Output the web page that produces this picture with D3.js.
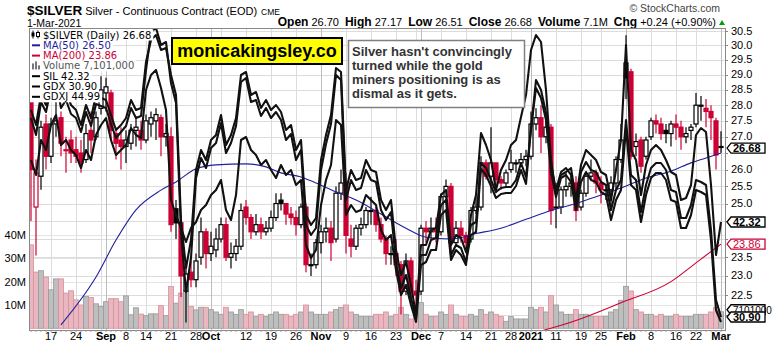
<!DOCTYPE html>
<html><head><meta charset="utf-8">
<script src="https://cdn.jsdelivr.net/npm/d3@7"></script>
<style>
html,body{margin:0;padding:0;background:#fff;}
svg{display:block;font-family:Arial,"Liberation Sans",sans-serif;}
</style></head><body>
<svg id="chart" width="775" height="345"></svg>
<script>
// ---- trading calendar -------------------------------------------------
const firstDay = "2020-08-11", lastDay = "2021-03-01";
const holidays = ["2020-09-07","2020-11-26","2020-12-25","2021-01-01","2021-01-18","2021-02-15"];

// ---- $SILVER daily candles (Aug 11 2020 .. Mar 1 2021) -------------------
const opens = [
  28.2,24.9,25.8,27.4,26.4,27.4,27.6,26.6,26.9,26.6,26.5,26.3,27.2,27.0,27.9,
  28.4,28.4,27.1,26.9,26.7,26.8,27.2,27.2,26.9,27.4,27.5,27.6,27.0,27.0,24.85,24.45,22.6,23.1,22.9,23.5,24.2,
  23.6,23.7,24.0,24.4,23.5,23.6,23.8,24.9,24.6,24.2,24.4,24.2,24.3,24.6,25.1,25.0,24.7,24.6,24.4,24.9,23.3,23.3,
  23.9,24.2,24.3,24.0,25.3,25.6,24.0,23.8,24.3,24.4,24.8,24.8,24.4,24.0,23.6,23.6,23.3,22.6,23.4,22.6,
  22.6,24.3,24.2,24.3,24.2,25.2,25.5,23.9,24.3,24.1,24.0,24.8,24.9,26.2,25.8,26.2,25.7,25.6,26.0,26.2,26.2,26.3,
  26.4,27.4,27.6,27.0,27.3,24.9,24.9,25.4,25.5,25.6,24.9,25.3,25.8,25.9,25.6,25.4,25.4,25.6,26.3,
  29.4,29.1,26.7,26.9,26.4,27.0,27.5,27.4,27.2,27.1,27.4,27.3,27.0,27.2,27.4,28.0,27.9,27.8,27.5,
  26.70];
const highs = [
  28.6,26.3,27.5,27.7,27.6,28.3,27.8,27.0,27.2,27.0,26.9,27.4,27.8,27.8,28.95,
  28.9,28.5,27.3,27.3,27.2,27.4,27.6,27.5,27.7,27.8,27.9,27.7,27.4,27.3,25.1,24.6,23.3,23.4,23.6,24.6,24.3,
  24.2,24.3,24.6,24.6,23.9,24.0,25.0,25.1,24.7,24.7,24.6,24.5,24.8,25.3,25.3,25.0,24.9,24.8,25.0,25.0,23.6,24.0,
  24.4,24.6,24.5,25.5,26.0,25.9,24.4,24.4,24.6,24.9,25.2,24.9,24.6,24.1,23.8,24.0,23.4,23.6,23.5,22.9,
  24.4,24.5,24.6,24.6,25.3,25.7,25.6,24.5,24.5,24.2,24.9,25.2,26.4,26.3,27.3,26.2,25.8,26.0,26.6,26.3,26.5,26.6,
  27.8,27.9,28.0,27.5,27.4,25.6,25.5,25.9,25.9,25.8,25.4,25.9,26.3,26.0,25.8,25.5,25.8,26.4,27.4,
  30.35,29.2,27.1,27.0,27.0,27.6,27.7,27.6,27.4,27.5,27.7,27.5,27.3,27.4,28.4,28.3,28.2,28.0,27.6,
  27.17];
const lows = [
  24.5,23.55,25.4,26.0,26.2,27.0,26.4,25.9,26.2,26.2,25.9,26.2,26.5,26.9,27.7,
  27.8,26.9,26.3,26.0,26.2,26.6,26.7,26.6,26.8,27.0,26.9,26.4,26.7,24.2,24.0,22.45,21.8,22.7,22.7,23.3,23.2,
  23.4,23.5,23.9,23.4,23.2,23.4,23.7,24.4,24.0,24.1,24.0,24.1,24.2,24.5,24.8,24.4,24.4,24.1,24.3,23.1,23.0,23.2,
  23.6,23.9,23.4,23.9,25.1,23.6,23.5,23.7,24.1,24.3,24.4,24.2,23.9,23.3,23.3,23.0,22.0,22.5,22.4,22.0,
  22.5,23.9,24.0,23.9,24.1,25.0,23.6,23.8,23.9,23.6,23.9,24.7,24.8,25.7,25.3,25.3,25.4,25.5,25.9,25.9,26.1,26.1,
  26.3,27.2,26.5,26.8,24.4,24.3,24.7,25.2,25.2,24.5,24.8,25.2,25.7,25.3,25.0,25.1,24.8,25.4,26.2,
  28.2,26.3,26.4,25.9,26.3,26.9,27.1,26.9,26.8,26.7,26.9,26.6,26.8,26.9,27.3,27.5,27.3,26.9,26.0,
  26.51];
const closes = [
  26.0,25.9,27.3,26.4,27.4,27.5,26.8,26.6,26.5,26.4,26.2,27.1,26.9,27.6,28.5,
  28.6,27.2,26.8,26.7,26.9,27.2,27.3,26.9,27.5,27.6,27.7,27.0,27.1,24.4,24.45,23.0,23.05,22.9,23.4,24.2,23.6,
  23.8,24.0,24.4,23.5,23.6,23.8,24.8,24.6,24.2,24.4,24.2,24.3,24.6,25.0,25.0,24.7,24.6,24.4,24.9,23.3,23.3,23.9,
  24.2,24.3,23.9,25.3,25.6,24.1,23.8,24.3,24.4,24.8,24.8,24.4,24.0,23.6,23.6,23.3,22.6,23.4,22.6,22.5,
  24.3,24.2,24.3,24.2,25.2,25.5,23.9,24.3,24.1,23.9,24.8,24.9,26.2,25.8,26.2,25.7,25.6,25.9,26.2,26.2,26.3,26.4,
  27.4,27.6,27.0,27.3,24.8,24.9,25.4,25.5,25.6,24.8,25.3,25.8,25.9,25.6,25.4,25.4,25.6,26.3,26.9,
  28.9,26.4,26.85,26.1,26.9,27.5,27.4,27.1,27.1,27.4,27.3,27.0,27.1,27.3,28.0,28.0,27.8,27.6,26.44,
  26.68];
// volume, millions of contracts
const volumes = [
  35.8,24.1,24.7,22.0,16.5,21.2,21.2,15.1,16.1,12.2,10.0,13.7,13.2,10.5,9.4,
  11.4,12.7,12.7,11.4,13.9,5.8,8.8,6.1,5.4,6.2,6.2,9.7,5.4,17.9,10.8,15.1,16.1,9.4,7.9,9.0,9.0,
  8,7,6,9,7,6,8,6,7,5,6,5,6,7,6,6,5,6,7,10,7,6,
  6,6,7,8,9,10,7,6,5,5,5,6,6,7,5,6,9,6,4,8,
  11,6,5,5,7,6,10,6,5,5,6,5,8,6,7,6,5,3,5,4,4,4,
  9,8,9,7,14,10,7,6,6,8,6,6,5,5,5,5,7,8,12,
  18,16,8,7,6,6,5,6,5,5,6,5,5,5,6,6,6,7,9,
  7.101];

// ---- moving averages (date, value) --------------------------------------
const ma50 = [["2020-08-19",21.74],["2020-08-28",22.97],["2020-09-03",23.97],["2020-09-10",24.82],
  ["2020-09-17",25.39],["2020-09-22",25.63],["2020-09-28",26.02],["2020-10-02",26.14],["2020-10-12",26.17],
  ["2020-10-16",26.08],["2020-10-21",25.9],["2020-10-27",25.78],["2020-10-30",25.6],["2020-11-05",25.34],
  ["2020-11-11",25.1],["2020-11-18",24.7],["2020-11-25",24.3],["2020-12-02",24.05],["2020-12-09",24.0],
  ["2020-12-16",24.15],["2020-12-23",24.3],["2020-12-31",24.55],["2021-01-08",24.8],["2021-01-15",25.0],
  ["2021-01-22",25.2],["2021-01-29",25.45],["2021-02-05",25.75],["2021-02-12",25.95],["2021-02-19",26.2],
  ["2021-02-24",26.35],["2021-03-01",26.50]];
const ma200 = [["2021-01-05",21.55],["2021-01-15",21.85],["2021-01-29",22.3],["2021-02-12",22.85],
  ["2021-02-22",23.35],["2021-03-01",23.86]];

// ---- overlay symbols, daily closes ---------------------------------------
const silCloses = [
  44.8,44.2,45.6,45.2,46.2,46.6,45.4,45.6,45.2,45.0,44.48,45.2,44.8,45.8,46.2,
  46.48,45.6,45.0,45.2,45.4,46.08,45.8,45.68,47.6,48.2,48.4,47.68,46.8,43.2,42.6,42.08,41.52,42.08,42.32,42.8,43.0,
  43.4,43.6,44.0,42.8,42.4,43.4,45.6,45.72,45.2,45.0,44.6,44.8,44.4,44.08,44.6,44.2,44.4,43.8,44.0,41.4,40.88,41.2,
  43.0,44.0,44.6,46.4,46.2,42.6,43.0,42.72,42.8,43.4,43.2,43.0,42.0,41.6,41.8,40.4,39.4,39.8,39.0,38.32,
  40.6,40.72,41.2,41.2,42.6,42.8,40.8,41.2,41.0,40.6,42.6,43.4,45.88,45.4,44.8,43.6,44.4,44.8,45.4,45.6,46.52,47.4,
  49.2,49.8,49.52,47.6,44.8,43.4,44.2,44.32,44.48,43.2,44.6,45.2,45.0,44.8,44.32,44.2,43.2,44.4,45.6,
  49.4,45.2,44.8,43.4,44.6,45.2,45.4,45.2,44.8,44.32,44.2,43.2,43.28,43.8,45.8,46.08,45.92,43.8,41.0,
  42.32];
const gdxCloses = [
  41.25,40.5,42.0,41.5,42.75,43.25,41.75,42.15,41.5,41.25,40.5,41.5,40.85,42.0,41.85,
  41.75,41.0,40.25,40.5,40.85,41.75,41.25,41.35,43.65,44.75,45.0,44.25,44.35,43.0,42.0,35.75,33.35,34.75,38.25,39.25,38.75,
  39.75,40.0,41.0,39.5,40.0,40.85,43.0,43.15,42.0,42.15,41.35,41.75,41.25,41.5,41.15,40.25,40.5,39.25,39.75,36.0,35.5,35.85,
  38.75,40.0,41.0,43.35,43.15,37.25,38.25,37.75,37.85,38.75,38.25,38.15,36.75,36.25,36.75,34.25,33.0,33.65,32.5,31.0,
  34.5,34.5,35.25,35.35,37.0,37.25,34.5,35.0,34.85,34.15,35.5,35.65,38.6,38.35,37.75,37.15,37.35,37.4,37.4,37.75,38.6,37.9,
  40.25,42.75,42.25,41.1,38.5,37.25,38.15,38.35,38.0,36.6,38.15,38.65,38.25,38.15,37.65,37.5,36.25,37.25,37.75,
  40.75,38.0,37.75,36.15,37.5,38.35,38.6,38.6,38.25,37.25,37.15,35.85,35.85,36.5,37.75,37.65,37.5,35.25,31.75,
  30.90];
const gdxjCloses = [
  55.19,54.34,55.99,55.49,56.69,57.09,55.69,56.09,55.39,55.19,54.49,55.49,54.79,55.89,55.79,
  55.69,54.89,54.19,54.49,54.79,55.69,55.19,55.29,57.59,59.49,59.69,58.84,58.99,56.94,55.94,49.49,46.49,48.19,52.19,53.19,52.69,
  53.69,53.94,54.94,53.44,53.94,54.79,56.99,57.19,55.99,56.09,55.29,55.69,55.19,55.49,55.09,54.09,54.39,53.09,53.59,49.84,49.34,49.69,
  52.59,53.89,54.89,57.34,57.09,51.09,52.09,51.59,51.69,52.59,52.09,51.99,50.59,50.09,50.49,47.99,46.69,47.34,46.19,45.19,
  48.34,48.34,49.09,49.19,50.84,51.09,48.34,48.84,48.69,47.99,49.34,49.49,52.64,52.34,51.79,51.19,51.39,51.44,51.44,51.79,52.59,51.89,
  54.69,56.69,56.19,55.09,52.49,51.24,52.19,52.34,51.99,50.59,51.99,52.49,52.09,51.99,51.49,51.34,50.09,51.09,51.59,
  54.69,51.84,51.59,49.99,51.34,52.19,52.44,52.44,52.09,51.09,50.99,49.69,49.69,50.34,51.59,51.49,51.34,49.09,45.59,
  44.99];
// each overlay is drawn on its own value range
const overlayDomains = {SIL:[38.0,50.08], GDX:[30.25,45.35], GDXJ:[44.59,59.69]};

// ---- axis labels -----------------------------------------------------------
const priceTicks = [22.0,22.5,23.0,23.5,24.0,24.5,25.0,25.5,26.0,26.5,27.0,27.5,28.0,28.5,29.0,29.5,30.0,30.5];
const priceLabels = [22.5,23.0,23.5,25.0,25.5,26.0,27.0,27.5,28.0,28.5,29.0,29.5,30.0,30.5];
const volumeTicks = [10,20,30,40];
const dateTicks = [["2020-08-17","17",0],["2020-08-24","24",0],["2020-09-01","Sep",1],["2020-09-08","8",0],
  ["2020-09-14","14",0],["2020-09-21","21",0],["2020-09-28","28",0],["2020-10-01","Oct",1],["2020-10-12","12",0],
  ["2020-10-19","19",0],["2020-10-26","26",0],["2020-11-02","Nov",1],["2020-11-09","9",0],["2020-11-16","16",0],
  ["2020-11-23","23",0],["2020-12-01","Dec",1],["2020-12-07","7",0],["2020-12-14","14",0],["2020-12-21","21",0],
  ["2020-12-28","28",0],["2021-01-04","2021",1],["2021-01-11","11",0],["2021-01-19","19",0],["2021-01-25","25",0],
  ["2021-02-01","Feb",1],["2021-02-08","8",0],["2021-02-16","16",0],["2021-02-22","22",0],["2021-03-01","Mar",1]];
const extraGridDates = ["2020-08-31","2020-10-05","2020-11-30"];

// ---- build calendar ---------------------------------------------------------
const fmt = d3.utcFormat("%Y-%m-%d");
const dates = d3.utcDays(new Date(firstDay+"T00:00Z"), d3.utcDay.offset(new Date(lastDay+"T00:00Z"),1))
  .filter(d => d.getUTCDay()!==0 && d.getUTCDay()!==6 && !holidays.includes(fmt(d))).map(fmt);
const bars = dates.map((d,i)=>({date:d,o:opens[i],h:highs[i],l:lows[i],c:closes[i],v:volumes[i]*1e6,
  prev: i>0?closes[i-1]:opens[i]}));

// ---- layout & scales ---------------------------------------------------------
const L=29, R=725, T=28, B=330;
const svg = d3.select("#chart");
const x = d3.scalePoint().domain(dates).range([31,721]);
const y = d3.scaleLog().domain([22.5,30.5]).range([295,31]);
const yv = d3.scaleLinear().domain([0,40e6]).range([328.3,235]);

svg.append("defs").append("clipPath").attr("id","plot").append("rect")
  .attr("x",L).attr("y",T).attr("width",R-L).attr("height",B-T);

// ---- header ----
const hdr = svg.append("text").attr("x",27).attr("y",15);
hdr.append("tspan").attr("font-weight","bold").attr("font-size",13.5).text("$SILVER");
hdr.append("tspan").attr("font-size",11).attr("dx",3).text("Silver - Continuous Contract (EOD)");
hdr.append("tspan").attr("font-size",8.5).attr("dx",4).text("CME");
svg.append("text").attr("x",27).attr("y",26.5).attr("font-size",10.5).text("1-Mar-2021");
svg.append("text").attr("x",720).attr("y",12).attr("text-anchor","end").attr("font-size",10.5)
  .attr("fill","#444").text("\u00A9 StockCharts.com");
const stats = svg.append("text").attr("x",716).attr("y",26).attr("text-anchor","end");
[["Open","26.70"],["High","27.17"],["Low","26.51"],["Close","26.68"],["Volume","7.1M"],["Chg","+0.24 (+0.90%)"]]
  .forEach(([k,v],i)=>{
    stats.append("tspan").attr("font-weight","bold").attr("font-size",12).attr("dx",i?6:0).text(k);
    stats.append("tspan").attr("font-size",11).attr("dx",3).text(v);
  });
svg.append("path").attr("d","M719,25 L725,25 L722,20 Z").attr("fill","#00a000");

// ---- grid ----
const grid = svg.append("g");
grid.selectAll("line.h").data(priceTicks).join("line")
  .attr("x1",L).attr("x2",R).attr("y1",d=>Math.round(y(d))+0.5).attr("y2",d=>Math.round(y(d))+0.5)
  .attr("stroke","#dcdcdc");
grid.selectAll("line.hv").data(volumeTicks).join("line")
  .attr("x1",L).attr("x2",R).attr("y1",d=>Math.round(yv(d*1e6))+0.5).attr("y2",d=>Math.round(yv(d*1e6))+0.5)
  .attr("stroke","#e4e4e4");
grid.selectAll("line.v").data(dateTicks.concat(extraGridDates.map(d=>[d,"",0]))).join("line")
  .attr("x1",d=>Math.round(x(d[0]))+0.5).attr("x2",d=>Math.round(x(d[0]))+0.5).attr("y1",T).attr("y2",B)
  .attr("stroke",d=>d[2]?"#bdbdbd":"#dcdcdc");

const plot = svg.append("g").attr("clip-path","url(#plot)");

// ---- volume ----
plot.selectAll("rect.vol").data(bars).join("rect")
  .attr("x",d=>x(d.date)-2.5).attr("width",5)
  .attr("y",d=>yv(d.v)).attr("height",d=>yv(0)-yv(d.v))
  .attr("fill",d=>d.c<d.prev?"#e8b7c0":"#bebebe")
  .attr("stroke",d=>d.c<d.prev?"#d88f9d":"#999").attr("stroke-width",0.8);

// ---- candles ----
const red="#cc0033";
const cg = plot.selectAll("g.cdl").data(bars).join("g");
cg.append("line").attr("x1",d=>x(d.date)).attr("x2",d=>x(d.date))
  .attr("y1",d=>y(d.h)).attr("y2",d=>y(d.l))
  .attr("stroke",d=>d.c<d.prev?red:"#000").attr("stroke-width",1.2);
cg.append("rect").attr("x",d=>x(d.date)-2).attr("width",4)
  .attr("y",d=>y(Math.max(d.o,d.c))).attr("height",d=>Math.max(1,Math.abs(y(d.o)-y(d.c))))
  .attr("fill",d=>d.c>=d.o?"#fff":(d.c<d.prev?red:"#000"))
  .attr("stroke",d=>d.c<d.prev?red:"#000").attr("stroke-width",1.2);

// ---- moving averages ----
const maLine = d3.line().x(d=>x(d[0])).y(d=>y(d[1])).curve(d3.curveMonotoneX);
plot.append("path").attr("d",maLine(ma50)).attr("fill","none").attr("stroke","#1f1fa0").attr("stroke-width",1.1);
plot.append("path").attr("d",maLine(ma200)).attr("fill","none").attr("stroke",red).attr("stroke-width",1.1);

// ---- overlays ----
const ovScale = k => d3.scaleLinear().domain(overlayDomains[k]).range([B,T]);
[["SIL",silCloses],["GDX",gdxCloses],["GDXJ",gdxjCloses]].forEach(([k,vals])=>{
  const s = ovScale(k);
  const ln = d3.line().x((v,i)=>x(dates[i])).y(v=>s(v));
  plot.append("path").attr("d",ln(vals)).attr("fill","none").attr("stroke","#111").attr("stroke-width",2.1)
    .attr("stroke-linejoin","round");
});

// frame
svg.append("rect").attr("x",L+0.5).attr("y",T+0.5).attr("width",R-L).attr("height",B-T)
  .attr("fill","none").attr("stroke","#888");

// ---- right axis ----
svg.selectAll("text.py").data(priceLabels).join("text")
  .attr("x",731).attr("y",d=>y(d)+3.5).attr("font-size",11).text(d=>d.toFixed(1));
svg.selectAll("line.pt").data(priceTicks).join("line")
  .attr("x1",R).attr("x2",R+3).attr("y1",d=>Math.round(y(d))+0.5).attr("y2",d=>Math.round(y(d))+0.5).attr("stroke","#888");
// volume labels
svg.selectAll("text.vy").data(volumeTicks).join("text")
  .attr("x",26).attr("y",d=>yv(d*1e6)+4).attr("text-anchor","end").attr("font-size",11).text(d=>d+"M");

// value tags on right axis
function tag(yy,label,color,bold,size){
  const g=svg.append("g");
  g.append("path").attr("d",`M${R+2},${yy} L${R+6},${yy-5} L${R+40},${yy-5} L${R+40},${yy+5} L${R+6},${yy+5} Z`)
    .attr("fill","#fff").attr("stroke",color).attr("stroke-width",1.3);
  g.append("text").attr("x",R+8).attr("y",yy+4).attr("font-size",size||11).attr("font-weight",bold?"bold":"normal")
    .attr("fill",color).text(label);
}
tag(y(closes[closes.length-1])+1,"26.68","#000",true);
tag(ovScale("SIL")(silCloses[silCloses.length-1]),"42.32","#000",true);
tag(y(23.86),"23.86",red,false);
tag(yv(volumes[volumes.length-1]*1e6)-2,"7101000","#000",false,10);
tag(ovScale("GDX")(gdxCloses[gdxCloses.length-1]),"30.90","#000",true);

// ---- date axis ----
svg.selectAll("text.dx").data(dateTicks).join("text")
  .attr("x",d=>x(d[0])).attr("y",340).attr("text-anchor","middle")
  .attr("font-size",11).attr("font-weight",d=>d[2]?"bold":"normal").text(d=>d[1]);
svg.selectAll("line.dt").data(dates).join("line")
  .attr("x1",d=>x(d)).attr("x2",d=>x(d)).attr("y1",B).attr("y2",B+2).attr("stroke","#999");

// ---- legend ----
const legend = [
  {t:"$SILVER (Daily) 26.68", c:"#000", icon:"candle"},
  {t:"MA(50) 26.50", c:"#1f1fa0", icon:"line"},
  {t:"MA(200) 23.86", c:red, icon:"line"},
  {t:"Volume 7,101,000", c:"#555", icon:"vol"},
  {t:"SIL 42.32", c:"#000", icon:"line"},
  {t:"GDX 30.90", c:"#000", icon:"line"},
  {t:"GDXJ 44.99", c:"#000", icon:"line"}];
const lg = svg.append("g").attr("font-family","'DejaVu Sans',Verdana,sans-serif").attr("font-size",10);
legend.forEach((d,i)=>{
  const by = 38.5 + i*10.3;
  const t = lg.append("text").attr("x",43).attr("y",by).attr("fill",d.c).text(d.t);
  const w = t.node().getComputedTextLength();
  lg.insert("rect","text").attr("x",30).attr("y",by-9).attr("width",w+15).attr("height",11).attr("fill","#fff");
  if(d.icon==="line") lg.append("line").attr("x1",32).attr("x2",40).attr("y1",by-3.5).attr("y2",by-3.5)
    .attr("stroke",d.c).attr("stroke-width",2);
  else if(d.icon==="vol") [33,36,39].forEach((xx,j)=>lg.append("rect").attr("x",xx-1).attr("y",by-7+(j===1?-1:1+j))
    .attr("width",2).attr("height",7-(j===1?-1:1+j)).attr("fill","#777"));
  else { lg.append("path").attr("d",`M33,${by-8}V${by} M38,${by-8}V${by}`).attr("stroke","#000");
    lg.append("rect").attr("x",31.5).attr("y",by-6).attr("width",3).attr("height",4).attr("fill","#000");
    lg.append("rect").attr("x",36.5).attr("y",by-6).attr("width",3).attr("height",4).attr("fill","#fff").attr("stroke","#000"); }
});

// ---- annotations ----
svg.append("rect").attr("x",172).attr("y",38).attr("width",170).attr("height",26)
  .attr("fill","#ffff00").attr("stroke","#000").attr("stroke-width",2);
svg.append("text").attr("x",257).attr("y",57).attr("text-anchor","middle").attr("font-size",18)
  .attr("font-weight","bold").text("monicakingsley.co");
svg.append("rect").attr("x",348.5).attr("y",40.5).attr("width",176).attr("height",67)
  .attr("fill","#fff").attr("stroke","#808080").attr("stroke-width",1.5);
["Silver hasn't convincingly","turned while the gold","miners positioning is as","dismal as it gets."]
  .forEach((s,i)=>svg.append("text").attr("x",352).attr("y",56+i*14).attr("font-size",13)
    .attr("font-weight","bold").attr("fill","#333").text(s));
</script></body></html>
